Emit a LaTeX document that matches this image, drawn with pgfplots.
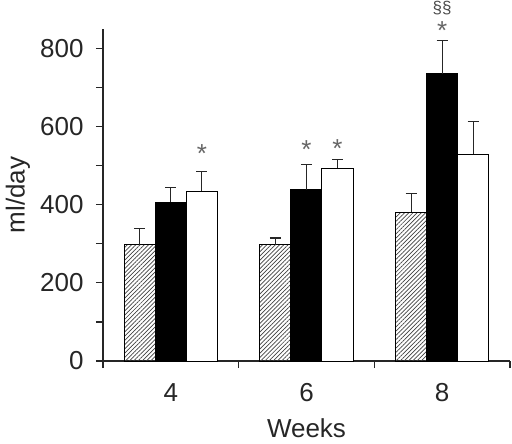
\documentclass[border=0pt]{standalone}
\usepackage{pgfplots}
\pgfplotsset{compat=1.18}
\usepackage{pgfplotstable}
\usepackage{fontspec}
\setmainfont{Liberation Sans}
\usetikzlibrary{patterns.meta}

% Daily volume (ml/day) at weeks 4, 6, 8; columns: position, mean, SEM (upper only)
\pgfplotstableread{
x y e
0 297 43
1 297 18
2 381 47
}\groupA
\pgfplotstableread{
x y e
0 407 38
1 439 64
2 736 85
}\groupB
\pgfplotstableread{
x y e
0 435 51
1 494 22
2 529 85
}\groupC

\begin{document}
\begin{tikzpicture}[font=\fontsize{26bp}{30bp}\selectfont]
\begin{axis}[
  scale only axis, width=407bp, height=332bp,
  xmin=-0.5, xmax=2.5, ymin=0, ymax=850,
  clip=false,
  axis x line=bottom, axis y line=left,
  axis line style={-, line width=1.2bp, color=black!85},
  ybar=0pt, bar width=31bp,
  xtick={0,1,2}, xticklabels={4,6,8},
  minor xtick={-0.5,0.5,1.5,2.5},
  every major x tick/.append style={draw=none},
  ytick={0,200,400,600,800}, minor ytick={100,300,500,700},
  tick align=outside, major tick length=7bp, minor tick length=7bp,
  tick style={line width=1.2bp, color=black!85},
  /pgf/number format/assume math mode=true,
  ticklabel style={font=\fontsize{26bp}{30bp}\selectfont, color=black!85},
  xticklabel style={yshift=-12bp},
  yticklabel style={xshift=-9bp},
  xlabel={Weeks}, ylabel={ml/day},
  xlabel style={at={([yshift=-67bp]axis description cs:0.5,0)}, anchor=center, color=black!85},
  ylabel style={at={([xshift=-85bp]axis description cs:0,0.5)}, anchor=center, color=black!85},
  error bars/y dir=plus, error bars/y explicit,
  error bars/error bar style={line width=1.3bp, color=black!85},
  error bars/error mark options={rotate=90, mark size=5.5bp, line width=1.3bp, color=black!85},
]
\addplot[draw=black, line width=1bp,
  pattern={Lines[angle=45, distance=3pt, line width=0.7bp]}, pattern color=black!75]
  table[x=x, y=y, y error=e] {\groupA};
\addplot[draw=black, line width=1bp, fill=black]
  table[x=x, y=y, y error=e] {\groupB};
\addplot[draw=black, line width=1bp, fill=white]
  table[x=x, y=y, y error=e] {\groupC};

% significance marks
\begin{scope}[every node/.style={inner sep=0pt, anchor=base, text=black!60, font=\fontsize{26bp}{30bp}\selectfont}]
  \node[xshift=31bp, yshift=-15bp] at (axis cs:0,547) {*};
  \node[yshift=-15bp] at (axis cs:1,558) {*};
  \node[xshift=31bp, yshift=-15bp] at (axis cs:1,560) {*};
  \node[yshift=-15bp] at (axis cs:2,862) {*};
  \node[font=\fontsize{17bp}{19bp}\selectfont, text=black!70, yshift=-8bp] at (axis cs:2,910) {§§};
\end{scope}
\end{axis}
\pgfresetboundingbox
\useasboundingbox (-103bp,-83bp) rectangle (409bp,361bp);
\end{tikzpicture}
\end{document}
